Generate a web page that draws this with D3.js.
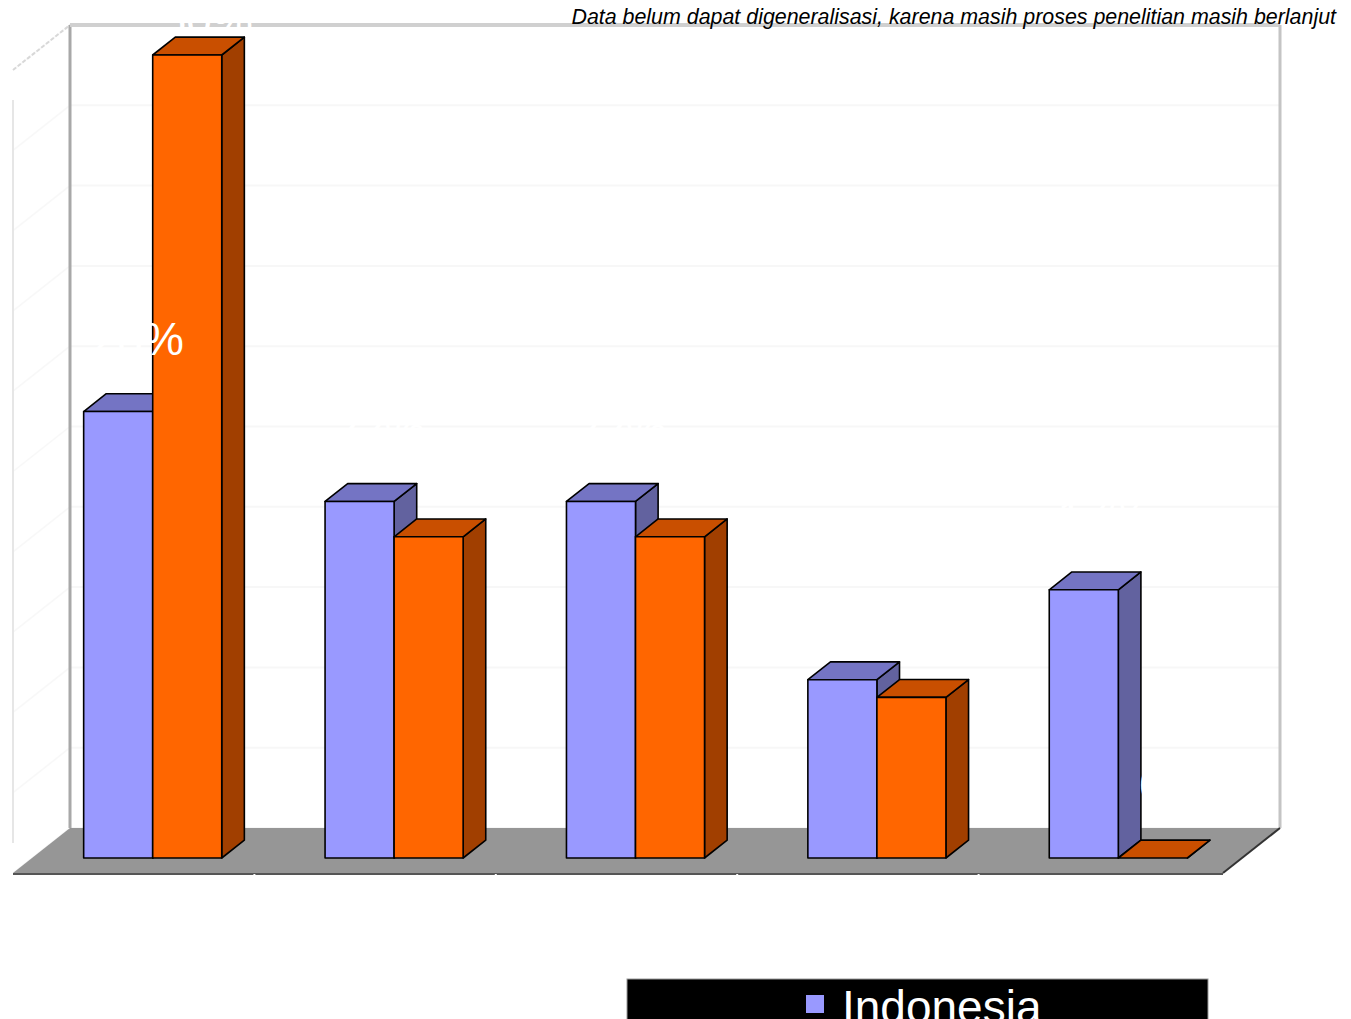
<!DOCTYPE html>
<html>
<head>
<meta charset="utf-8">
<script src="https://cdn.jsdelivr.net/npm/d3@7"></script>
<style>
  body { margin: 0; background: #fff; }
  svg { display: block; }
</style>
</head>
<body>
<script>
// data
const categories = ["Kategori 1", "Kategori 2", "Kategori 3", "Kategori 4", "Kategori 5"];
const seriesNames = ["Indonesia", "Negara lain"];
const indonesia = [27.8, 22.2, 22.2, 11.1, 16.7];
const lainnya = [50, 20, 20, 10, 0];
const valueLabels = [["28%", "22%", "22%", "11%", "17%"], ["50%", "20%", "20%", "10%", "0%"]];
const yTicks = [0, 5, 10, 15, 20, 25, 30, 35, 40, 45, 50];
const note = "Data belum dapat digeneralisasi, karena masih proses penelitian masih berlanjut";

const width = 1351, height = 1019;

// colours per series: front, top, side
const colours = [
  { front: "#9999ff", top: "#7474c4", side: "#62629f" },
  { front: "#ff6600", top: "#c94f00", side: "#a13f00" }
];

// 3d geometry
const floorY = 873;          // front edge of floor
const depthX = 57, depthY = 45; // offset from front to back wall
const zFront = 1 / 3, zBack = 0.73;

const x = d3.scaleBand().domain(categories).range([13, 1220]);
const y = d3.scaleLinear().domain([0, 50]).range([0, 803]);

// project (screen x on front edge, value, depth 0..1) -> screen point
const P = (sx, v, z) => [sx + z * depthX, floorY - z * depthY - y(v)];

const svg = d3.select("body").append("svg")
  .attr("width", width)
  .attr("height", height);

// left wall
svg.append("path")
  .attr("d", d3.line()([P(13, 0, 0), P(13, 50, 0), P(13, 50, 1), P(13, 0, 1)]) + "Z")
  .attr("fill", "#fff");

// gridlines on back and left walls (very faint)
yTicks.forEach(t => {
  svg.append("line")
    .attr("x1", P(13, t, 1)[0]).attr("y1", P(13, t, 1)[1])
    .attr("x2", P(1223, t, 1)[0]).attr("y2", P(1223, t, 1)[1])
    .attr("stroke", "#f7f7f7").attr("stroke-width", 2);
  svg.append("line")
    .attr("x1", P(13, t, 0)[0]).attr("y1", P(13, t, 0)[1])
    .attr("x2", P(13, t, 1)[0]).attr("y2", P(13, t, 1)[1])
    .attr("stroke", "#f8f8f8").attr("stroke-width", 1.5);
});

// left wall front edge, top diagonal
svg.append("line")
  .attr("x1", P(13, 0, 0)[0]).attr("y1", P(13, 0, 0)[1] - 30)
  .attr("x2", P(13, 0, 0)[0]).attr("y2", P(13, 50, 0)[1] + 30)
  .attr("stroke", "#e6e6e6").attr("stroke-width", 2);
svg.append("line")
  .attr("x1", P(13, 50, 0)[0]).attr("y1", P(13, 50, 0)[1])
  .attr("x2", P(13, 50, 1)[0]).attr("y2", P(13, 50, 1)[1])
  .attr("stroke", "#d8d8d8").attr("stroke-width", 2).attr("stroke-dasharray", "4,2");

// back wall edges
svg.append("line")
  .attr("x1", P(13, 0, 1)[0]).attr("y1", P(13, 0, 1)[1])
  .attr("x2", P(13, 50, 1)[0]).attr("y2", P(13, 50, 1)[1])
  .attr("stroke", "#a8a8a8").attr("stroke-width", 3);
svg.append("line")
  .attr("x1", P(13, 50, 1)[0]).attr("y1", P(13, 50, 1)[1])
  .attr("x2", P(1223, 50, 1)[0]).attr("y2", P(1223, 50, 1)[1])
  .attr("stroke", "#d0d0d0").attr("stroke-width", 4);
svg.append("line")
  .attr("x1", P(1223, 0, 1)[0]).attr("y1", P(1223, 0, 1)[1])
  .attr("x2", P(1223, 50, 1)[0]).attr("y2", P(1223, 50, 1)[1])
  .attr("stroke", "#c4c4c4").attr("stroke-width", 3);

// floor
svg.append("path")
  .attr("d", d3.line()([P(13, 0, 0), P(13, 0, 1), P(1223, 0, 1), P(1223, 0, 0)]) + "Z")
  .attr("fill", "#969696");
svg.append("line")
  .attr("x1", 13).attr("y1", floorY + 1).attr("x2", 1223).attr("y2", floorY + 1)
  .attr("stroke", "#555").attr("stroke-width", 2);
svg.append("line")
  .attr("x1", P(1223, 0, 0)[0]).attr("y1", P(1223, 0, 0)[1])
  .attr("x2", P(1223, 0, 1)[0]).attr("y2", P(1223, 0, 1)[1])
  .attr("stroke", "#333").attr("stroke-width", 2);

// category ticks on the floor edge
categories.slice(1).forEach(c => {
  svg.append("line")
    .attr("x1", x(c)).attr("x2", x(c))
    .attr("y1", floorY + 1).attr("y2", floorY + 6)
    .attr("stroke", "#fff").attr("stroke-width", 2);
});

// bars
const barW = x.bandwidth() * 0.286;
const series = [indonesia, lainnya];
const bars = svg.append("g");
categories.forEach((c, i) => {
  const cx = x(c) + x.bandwidth() / 2;
  series.forEach((vals, s) => {
    const v = vals[i];
    const x0 = cx + (s - 1) * barW, x1 = x0 + barW;
    const col = colours[s];
    const g = bars.append("g")
      .attr("stroke", "#000").attr("stroke-width", 1.6).attr("stroke-linejoin", "round");
    // side face
    g.append("path")
      .attr("d", d3.line()([P(x1, 0, zFront), P(x1, v, zFront), P(x1, v, zBack), P(x1, 0, zBack)]) + "Z")
      .attr("fill", col.side);
    // top face
    g.append("path")
      .attr("d", d3.line()([P(x0, v, zFront), P(x0, v, zBack), P(x1, v, zBack), P(x1, v, zFront)]) + "Z")
      .attr("fill", col.top);
    // front face
    const a = P(x0, v, zFront), b = P(x1, 0, zFront);
    g.append("rect")
      .attr("x", a[0]).attr("y", a[1])
      .attr("width", b[0] - a[0]).attr("height", b[1] - a[1])
      .attr("fill", col.front);
  });
});

// value labels (white, as in the original)
categories.forEach((c, i) => {
  const cx = x(c) + x.bandwidth() / 2;
  series.forEach((vals, s) => {
    const v = vals[i];
    const bx = cx + (s - 0.5) * barW;
    const p = P(bx, v, zBack);
    svg.append("text")
      .attr("x", p[0] - 3)
      .attr("y", Math.max(p[1] - 39, 36))
      .attr("text-anchor", "middle")
      .attr("font-family", "Liberation Sans, Arial, sans-serif")
      .attr("font-size", 46)
      .attr("fill", "#fff")
      .text(valueLabels[s][i]);
  });
});

// y axis labels (white)
yTicks.forEach(t => {
  svg.append("text")
    .attr("x", 11).attr("y", P(13, t, 0)[1] + 4)
    .attr("text-anchor", "end")
    .attr("font-family", "Liberation Sans, Arial, sans-serif")
    .attr("font-size", 4)
    .attr("fill", "#fff")
    .text(t + "%");
});

// category labels (white)
categories.forEach(c => {
  svg.append("text")
    .attr("x", x(c) + x.bandwidth() / 2).attr("y", floorY + 40)
    .attr("text-anchor", "middle")
    .attr("font-family", "Liberation Sans, Arial, sans-serif")
    .attr("font-size", 30)
    .attr("fill", "#fff")
    .text(c);
});

// note
svg.append("text")
  .attr("x", 1336).attr("y", 24)
  .attr("text-anchor", "end")
  .attr("font-family", "Liberation Sans, Arial, sans-serif")
  .attr("font-style", "italic")
  .attr("font-size", 21.4)
  .attr("fill", "#000")
  .text(note);

// legend
const legend = svg.append("g");
legend.append("rect")
  .attr("x", 627).attr("y", 979).attr("width", 581).attr("height", 120)
  .attr("fill", "#000").attr("stroke", "#999").attr("stroke-width", 1);
seriesNames.forEach((n, s) => {
  const ly = 1023 + s * 55;
  legend.append("rect")
    .attr("x", 806).attr("y", ly - 28).attr("width", 18).attr("height", 18)
    .attr("fill", colours[s].front);
  legend.append("text")
    .attr("x", 842).attr("y", ly)
    .attr("font-family", "Liberation Sans, Arial, sans-serif")
    .attr("font-size", 46)
    .attr("fill", "#fff")
    .text(n);
});
</script>
</body>
</html>
